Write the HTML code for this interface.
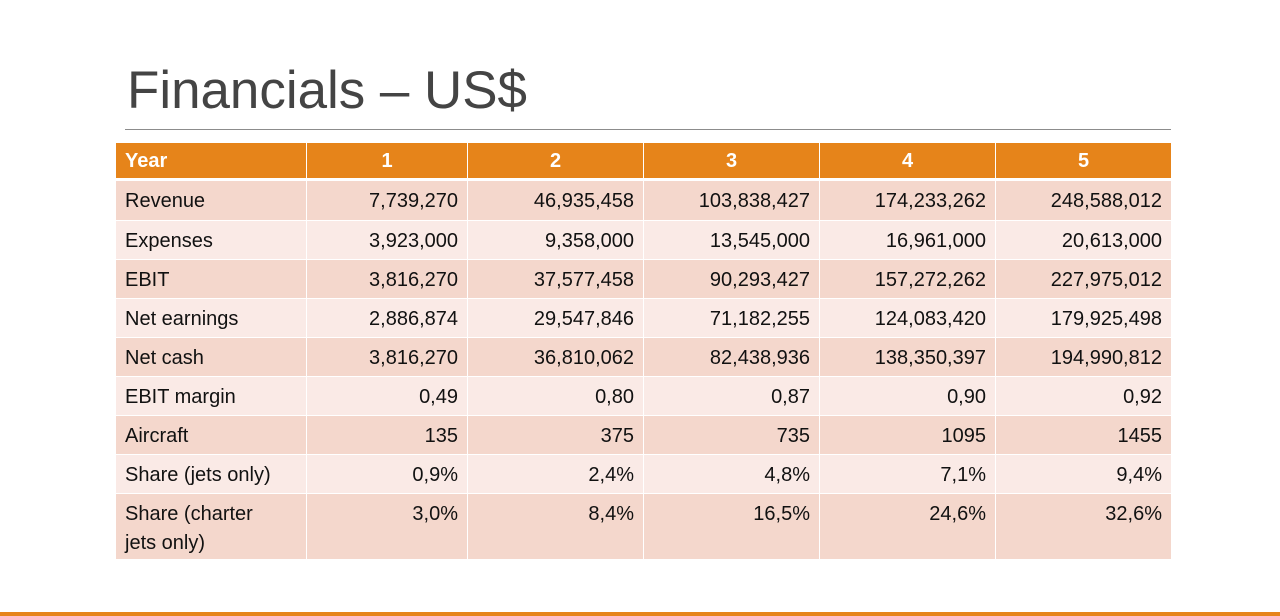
<!DOCTYPE html>
<html><head><meta charset="utf-8">
<style>
html,body{margin:0;padding:0;background:#fff;}
#slide{position:relative;width:1280px;height:616px;overflow:hidden;font-family:"Liberation Sans",sans-serif;}
.cell{position:absolute;box-sizing:border-box;font-size:20px;color:#111;line-height:29px;padding-top:6px;white-space:pre-line;}
.hdr{color:#fff;font-weight:bold;}
</style></head><body>
<div id="slide">
<svg width="1280" height="140" style="position:absolute;left:0;top:0">
<text x="127" y="108" font-family="Liberation Sans, sans-serif" font-size="53" fill="#444" textLength="400" lengthAdjust="spacingAndGlyphs">Financials – US$</text>
</svg>
<div style="position:absolute;left:125px;top:129px;width:1046px;height:1px;background:#8c8c8c"></div>
<div id="tbl"></div>
<div style="position:absolute;left:0;top:612px;width:1280px;height:4px;background:#E6841A"></div>
</div>
<script>
const headers=["Year","1","2","3","4","5"];
const labels=["Revenue","Expenses","EBIT","Net earnings","Net cash","EBIT margin","Aircraft","Share (jets only)","Share (charter\njets only)"];
const values=[
["7,739,270","46,935,458","103,838,427","174,233,262","248,588,012"],
["3,923,000","9,358,000","13,545,000","16,961,000","20,613,000"],
["3,816,270","37,577,458","90,293,427","157,272,262","227,975,012"],
["2,886,874","29,547,846","71,182,255","124,083,420","179,925,498"],
["3,816,270","36,810,062","82,438,936","138,350,397","194,990,812"],
["0,49","0,80","0,87","0,90","0,92"],
["135","375","735","1095","1455"],
["0,9%","2,4%","4,8%","7,1%","9,4%"],
["3,0%","8,4%","16,5%","24,6%","32,6%"]
];
const colX=[116,306,467,643,819,995,1171];
const rowY=[143,181,220,259,298,337,376,415,454,493,559];
const tbl=document.getElementById('tbl');
function cell(r,c,text){
  const d=document.createElement('div');
  d.className='cell'+(r===0?' hdr':'');
  const x0=colX[c]+(c>0?1:0), x1=colX[c+1];
  const y0=rowY[r]+(r>1?1:0), y1=r===0?rowY[1]-3:rowY[r+1];
  d.style.left=x0+'px';d.style.top=y0+'px';d.style.width=(x1-x0)+'px';d.style.height=(y1-y0)+'px';
  let bg=r===0?'#E6841A':(r%2===1?'#F4D7CC':'#FAEAE6');
  d.style.background=bg;
  if(r===0){d.style.paddingTop='4px';}
  if(c===0){d.style.paddingLeft='9px';d.style.textAlign='left';}
  else if(r===0){d.style.textAlign='center';}
  else {d.style.textAlign='right';d.style.paddingRight='9px';}
  d.textContent=text;
  
  
  tbl.appendChild(d);
}
headers.forEach((h,c)=>cell(0,c,h));
labels.forEach((l,i)=>{cell(i+1,0,l);values[i].forEach((v,j)=>cell(i+1,j+1,v));});
</script>
</body></html>
